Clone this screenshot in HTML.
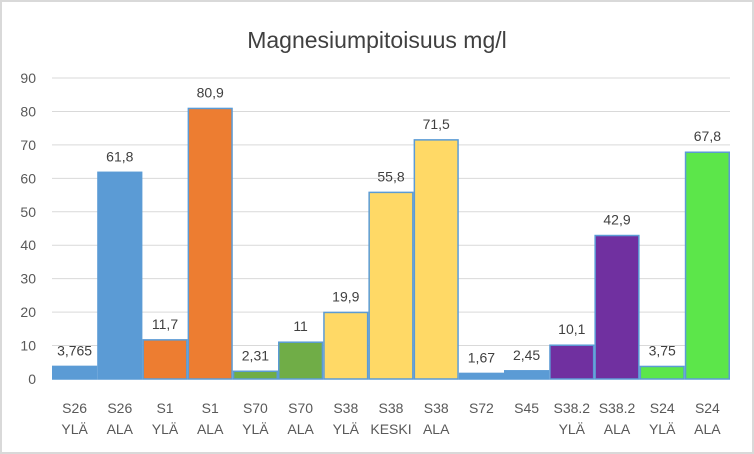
<!DOCTYPE html>
<html><head><meta charset="utf-8"><style>
body{margin:0;background:#fff}
svg{display:block;font-family:"Liberation Sans",sans-serif}
</style></head><body>
<svg id="c" width="754" height="454">
<rect x="1" y="1" width="752" height="452" fill="#fff" stroke="#d9d9d9" stroke-width="2"/>
<text x="377" y="48" text-anchor="middle" font-size="23" fill="#404040">Magnesiumpitoisuus mg/l</text>
<g id="grid"></g><g id="bars"></g><g id="labels"></g>
</svg>
<script>
const categoriesTop=["S26","S26","S1","S1","S70","S70","S38","S38","S38","S72","S45","S38.2","S38.2","S24","S24"];
const categoriesBottom=["YLÄ","ALA","YLÄ","ALA","YLÄ","ALA","YLÄ","KESKI","ALA","","","YLÄ","ALA","YLÄ","ALA"];
const values=[3.765,61.8,11.7,80.9,2.31,11,19.9,55.8,71.5,1.67,2.45,10.1,42.9,3.75,67.8];
const valueLabels=["3,765","61,8","11,7","80,9","2,31","11","19,9","55,8","71,5","1,67","2,45","10,1","42,9","3,75","67,8"];
const colors=["#5b9bd5","#5b9bd5","#ed7d31","#ed7d31","#70ad47","#70ad47","#ffd966","#ffd966","#ffd966","#5b9bd5","#5b9bd5","#7030a0","#7030a0","#5ce64a","#5ce64a"];
const yTicks=[0,10,20,30,40,50,60,70,80,90];
const ns="http://www.w3.org/2000/svg";
const x0=52,x1=730,y0=379,y90=78;
const y=v=>y0-(v/90)*(y0-y90);
const bw=(x1-x0)/values.length;
const x=i=>x0+i*bw;
function mk(t,a,p,txt){const e=document.createElementNS(ns,t);for(const k in a)e.setAttribute(k,a[k]);if(txt!==undefined)e.textContent=txt;document.getElementById(p).appendChild(e);return e;}
yTicks.forEach(t=>{
 const l=mk("line",{x1:x0,x2:x1,y1:y(t),y2:y(t),stroke:"#d9d9d9","stroke-width":1},"grid");
 
 
 const tx=mk("text",{x:36,y:y(t)+5,"text-anchor":"end","font-size":14,fill:"#595959"},"grid",String(t));
 
 
});
values.forEach((v,i)=>{
 const r=mk("rect",{x:x(i)+0.75,y:y(v),width:bw-1.5,height:y0-y(v),fill:colors[i],stroke:"#5b9bd5","stroke-width":1.5},"bars");
 
 
 const vl=mk("text",{x:x(i)+bw/2,y:y(v)-11,"text-anchor":"middle","font-size":14,fill:"#404040"},"labels",valueLabels[i]);
 
 
 const c1=mk("text",{x:x(i)+bw/2,y:413,"text-anchor":"middle","font-size":14,fill:"#595959"},"labels",categoriesTop[i]);
 
 
 if(categoriesBottom[i]){
  const c2=mk("text",{x:x(i)+bw/2,y:434,"text-anchor":"middle","font-size":14,fill:"#595959"},"labels",categoriesBottom[i]);
  
  
 }
});
</script>
</body></html>
